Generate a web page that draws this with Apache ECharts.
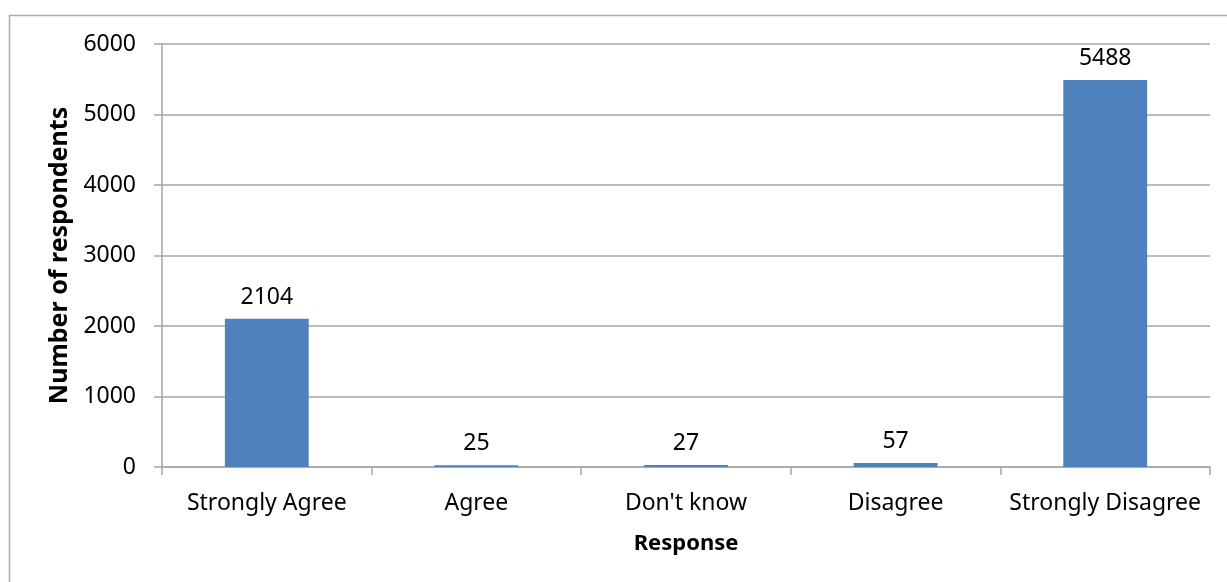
<!DOCTYPE html>
<html>
<head>
    <meta charset="UTF-8">
    <title></title>
    <script type="text/javascript" src="https://cdn.jsdelivr.net/npm/echarts@6/dist/echarts.min.js"></script>
    <style>
        body { margin: 0; background: #fff; }
    </style>
</head>
<body>
<div id="main" style="width: 1227px;height:582px;"></div>
<script type="text/javascript">
    // data
    var categories = ['Strongly Agree', 'Agree', "Don't know", 'Disagree', 'Strongly Disagree'];
    var respondents = [2104, 25, 27, 57, 5488];
    var yTicks = [0, 1000, 2000, 3000, 4000, 5000, 6000];

    var font = 'Noto Sans';
    var myChart = echarts.init(document.getElementById('main'));

    var option = {
        animation: false,
        // outer frame (runs off the right and bottom edge)
        graphic: [{
            type: 'rect',
            shape: {x: 9.5, y: 15.5, width: 1240, height: 600},
            style: {fill: 'none', stroke: '#ababab', lineWidth: 1.5},
            silent: true
        }],
        grid: {
            left: 162,
            right: 17,
            top: 44,
            bottom: 115
        },
        xAxis: {
            type: 'category',
            data: categories,
            name: 'Response',
            nameLocation: 'middle',
            nameGap: 66,
            nameTextStyle: {fontFamily: font, fontSize: 22, fontWeight: 'bold', color: '#000'},
            axisLine: {lineStyle: {color: '#a6a6a6', width: 1.5}},
            axisTick: {show: true, length: 8, alignWithLabel: false, lineStyle: {color: '#a6a6a6', width: 1.5}},
            axisLabel: {fontFamily: font, fontSize: 23, color: '#000', margin: 25, interval: 0}
        },
        yAxis: {
            type: 'value',
            min: yTicks[0],
            max: yTicks[yTicks.length - 1],
            interval: 1000,
            name: 'Number of respondents',
            nameLocation: 'middle',
            nameGap: 81,
            nameTextStyle: {fontFamily: font, fontSize: 25, fontWeight: 'bold', color: '#000'},
            axisLine: {show: true, lineStyle: {color: '#a6a6a6', width: 1.5}},
            axisTick: {show: true, length: 8, lineStyle: {color: '#a6a6a6', width: 1.5}},
            axisLabel: {
                fontFamily: font, fontSize: 23, color: '#000', margin: 26,
                formatter: function (v) { return String(v); }
            },
            splitLine: {lineStyle: {color: '#a6a6a6', width: 1.5}}
        },
        series: [{
            name: 'Number of respondents',
            type: 'bar',
            data: respondents,
            barWidth: '40%',
            itemStyle: {color: '#4f81bd'},
            label: {
                show: true,
                position: 'top',
                distance: 10,
                fontFamily: font,
                fontSize: 23,
                color: '#000'
            }
        }]
    };

    myChart.setOption(option);
</script>
</body>
</html>
